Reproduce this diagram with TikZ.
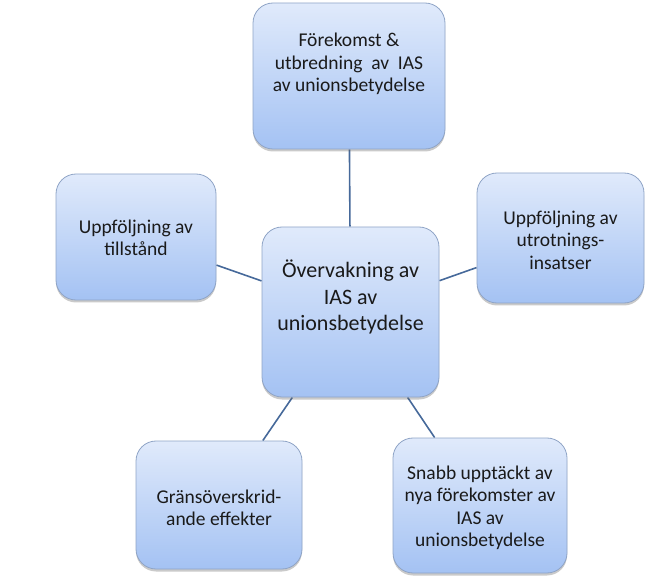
\documentclass[tikz,border=0pt]{standalone}
\usepackage{fontspec}
\setmainfont{Carlito}
\usetikzlibrary{shadows,backgrounds}
\definecolor{boxtop}{HTML}{E0EAFB}
\definecolor{boxbot}{HTML}{A4C2F3}
\definecolor{boxedge}{HTML}{8FA4C6}
\definecolor{linkc}{HTML}{46699A}
\definecolor{txt}{HTML}{1A1A1A}
\tikzset{
  box/.style={rectangle, rounded corners=20pt, top color=boxtop, bottom color=boxbot,
    draw=boxedge, line width=0.8pt, inner sep=0pt,
    drop shadow={opacity=0.35, shadow xshift=0pt, shadow yshift=-2.5pt, fill=black!60}},
  lbl/.style={align=center, text=txt, inner sep=0pt, font=\fontsize{19.5}{22.5}\selectfont},
  biglbl/.style={align=center, text=txt, inner sep=0pt, font=\fontsize{22}{26.5}\selectfont},
  link/.style={draw=linkc, line width=1.6pt}
}
\begin{document}
\begin{tikzpicture}[x=1pt,y=-1pt]
\useasboundingbox (0,0) rectangle (649,583);
\node[box, minimum width=192pt, minimum height=146pt] (top) at (349,76) {};
\node[box, minimum width=177pt, minimum height=170pt] (mid) at (350.5,312) {};
\node[box, minimum width=160pt, minimum height=126pt] (left) at (136,237) {};
\node[box, minimum width=167pt, minimum height=130pt] (right) at (560.5,238) {};
\node[box, minimum width=166pt, minimum height=128pt] (bl) at (219,505) {};
\node[box, minimum width=174pt, minimum height=135pt] (br) at (480,505.5) {};

\node[lbl] (ttop) at (349,64) {Förekomst \&\\utbredning~ av~ IAS\\av unionsbetydelse};
\node[biglbl] (tmid) at (350.5,297) {Övervakning av\\IAS av\\unionsbetydelse};
\node[lbl] (tleft) at (136,238) {Uppföljning av\\tillstånd};
\node[lbl] (tright) at (560.5,240) {Uppföljning av\\utrotnings-\\insatser};
\node[lbl] (tbl) at (219,508) {Gränsöverskrid-\\ande effekter};
\node[lbl] (tbr) at (480,508) {Snabb upptäckt av\\nya förekomster av\\IAS av\\unionsbetydelse};

\begin{scope}[on background layer]
\draw[link] (mid) -- (top);
\draw[link] (mid) -- (left);
\draw[link] (mid) -- (right);
\draw[link] (mid) -- (bl);
\draw[link] (mid) -- (br);
\end{scope}
\end{tikzpicture}
\end{document}
